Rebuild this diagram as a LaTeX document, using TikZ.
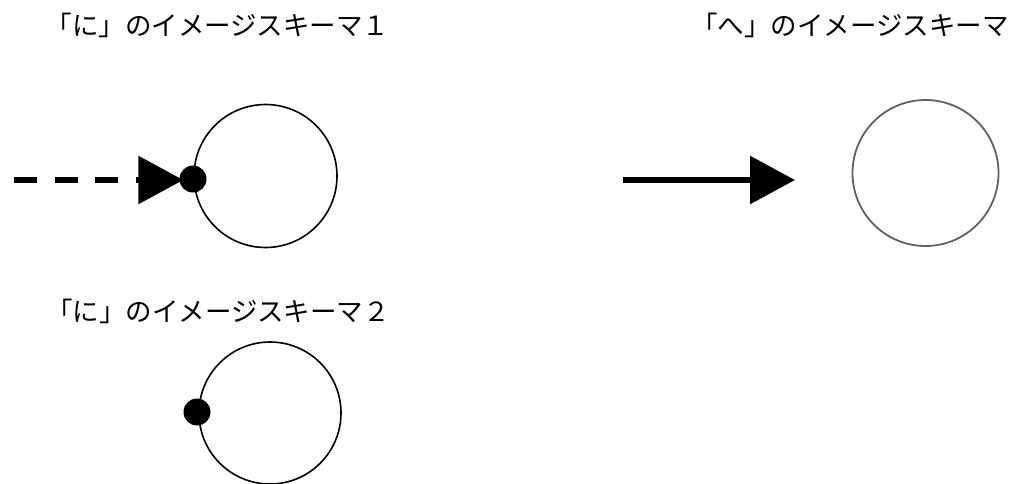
\documentclass[tikz,border=0pt]{standalone}
\usepackage{fontspec}
\newfontfamily\cjk{Noto Sans CJK JP}
\usetikzlibrary{arrows.meta}
\begin{document}
\begin{tikzpicture}[x=1pt,y=-1pt,
  title/.style={font=\cjk\fontsize{26.5pt}{30pt}\selectfont, inner sep=0pt},
  ring/.style={circle, draw=black, line width=1.6pt, inner sep=0pt},
  grayring/.style={circle, draw=black!62, line width=1.8pt, inner sep=0pt},
  dot/.style={circle, fill=black, inner sep=0pt, minimum size=27pt},
  bigtip/.style={-{Triangle[length=45pt,width=47pt]}, line width=6pt}
]
\useasboundingbox (0,0) rectangle (1011,483);
% titles
\node[title] (t1) at (217.5,25) {「に」のイメージスキーマ１};
\node[title] (t2) at (850,25) {「へ」のイメージスキーマ};
\node[title] (t3) at (218,311) {「に」のイメージスキーマ２};
% schema 1
\node[ring, minimum size=143pt] (c1) at (265.5,176) {};
\node[dot] (d1) at (193,179) {};
\coordinate (s1) at (14,180);
\draw[bigtip, dash pattern=on 23pt off 17.5pt] (s1) -- ([xshift=4pt]d1.west |- s1);
% schema he
\node[grayring, minimum size=146pt] (c2) at (925.5,173) {};
\coordinate (s2) at (623,180);
\coordinate (e2) at (795,180);
\draw[bigtip] (s2) -- (e2);
% schema 2
\node[ring, minimum size=142pt] (c3) at (270,413) {};
\node[dot] (d3) at (197,412) {};
\end{tikzpicture}
\end{document}
